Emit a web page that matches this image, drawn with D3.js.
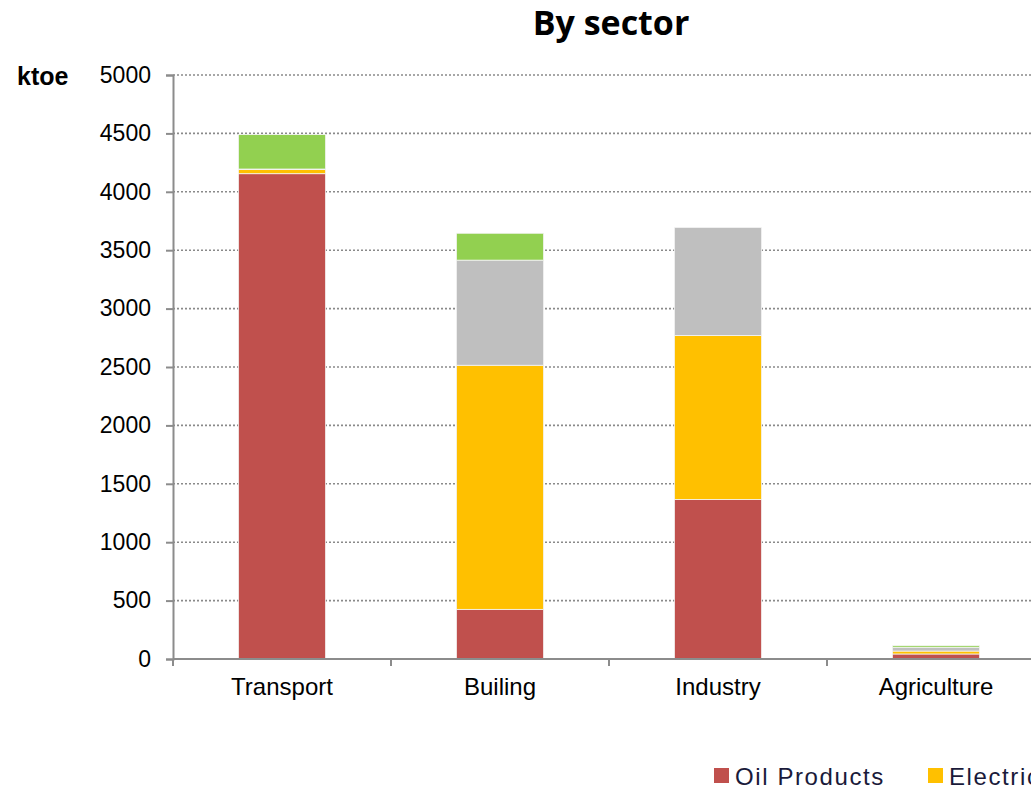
<!DOCTYPE html>
<html>
<head>
<meta charset="utf-8">
<script src="https://cdnjs.cloudflare.com/ajax/libs/d3/7.8.5/d3.min.js"></script>
<style>
  body { margin: 0; background: #fff; overflow: hidden; }
  svg { display: block; }
</style>
</head>
<body>
<svg id="chart"></svg>
<script>
const width = 1031;
const height = 792;

// data (ktoe)
const sectors = ['Transport', 'Builing', 'Industry', 'Agriculture'];
const seriesNames = ['Oil Products', 'Electricity', 'Natural Gas', 'Renewables'];
const oilProducts = [4155, 425, 1365, 43];
const electricity = [35, 2090, 1405, 25];
const naturalGas = [5, 900, 925, 30];
const renewables = [295, 230, 0, 15];
const yTicks = [0, 500, 1000, 1500, 2000, 2500, 3000, 3500, 4000, 4500, 5000];
const colors = ['#C0504D', '#FFC000', '#BFBFBF', '#92D050'];

const margin = {top: 75, left: 173, bottom: 133};
const plotRight = 1045; // plot runs past the visible edge, like the original crop

const svg = d3.select('#chart')
    .attr('width', width).attr('height', height);

const x = d3.scaleBand()
    .domain(sectors)
    .range([margin.left, plotRight])
    .paddingInner(0.6)
    .paddingOuter(0.3);

const y = d3.scaleLinear()
    .domain([0, 5000])
    .range([height - margin.bottom, margin.top]);

// table for the stack
const rows = sectors.map((s, i) => ({
  sector: s,
  'Oil Products': oilProducts[i],
  'Electricity': electricity[i],
  'Natural Gas': naturalGas[i],
  'Renewables': renewables[i]
}));
const stacked = d3.stack().keys(seriesNames)(rows);

// gridlines
svg.append('g')
    .selectAll('line')
    .data(yTicks.filter(d => d > 0))
    .enter().append('line')
    .attr('x1', margin.left).attr('x2', plotRight)
    .attr('y1', d => y(d)).attr('y2', d => y(d))
    .style('stroke', '#8a8a8a')
    .style('stroke-width', 1.6)
    .style('stroke-dasharray', '2,2');

// bars
svg.append('g')
    .selectAll('g')
    .data(stacked)
    .enter().append('g')
    .style('fill', (d, i) => colors[i])
    .selectAll('rect')
    .data(d => d)
    .enter().append('rect')
    .attr('x', d => x(d.data.sector))
    .attr('width', x.bandwidth())
    .attr('y', d => y(d[1]))
    .attr('height', d => Math.max(0, y(d[0]) - y(d[1])))
    .style('stroke', '#f4f4f4')
    .style('stroke-width', 0.8);

// y axis
const yAxis = svg.append('g')
    .attr('transform', `translate(${margin.left},0)`)
    .call(d3.axisLeft(y).tickValues(yTicks).tickFormat(d3.format('d')).tickSize(7).tickPadding(15));
yAxis.select('.domain').style('stroke', '#8c8c8c').style('stroke-width', 2);
yAxis.selectAll('.tick line').style('stroke', '#8c8c8c').style('stroke-width', 2);
yAxis.selectAll('.tick text')
    .style('font-family', 'Liberation Sans, Arial, sans-serif')
    .style('font-size', '23px')
    .style('fill', '#000');

// x axis
const base = y(0);
svg.append('line')
    .attr('x1', margin.left).attr('x2', plotRight)
    .attr('y1', base).attr('y2', base)
    .style('stroke', '#8c8c8c').style('stroke-width', 2);

const step = x.step();
const boundaries = sectors.map(s => x(s) - step * 0.3).concat([plotRight]);
svg.append('g')
    .selectAll('line')
    .data(boundaries)
    .enter().append('line')
    .attr('x1', d => d).attr('x2', d => d)
    .attr('y1', base).attr('y2', base + 7)
    .style('stroke', '#8c8c8c').style('stroke-width', 2);

svg.append('g')
    .selectAll('text')
    .data(sectors)
    .enter().append('text')
    .attr('x', d => x(d) + x.bandwidth() / 2)
    .attr('y', base + 36)
    .attr('text-anchor', 'middle')
    .style('font-family', 'Liberation Sans, Arial, sans-serif')
    .style('font-size', '24px')
    .text(d => d);

// unit label
svg.append('text')
    .attr('x', 17).attr('y', 85)
    .style('font-family', 'Liberation Sans, Arial, sans-serif')
    .style('font-weight', 'bold')
    .style('font-size', '25px')
    .text('ktoe');

// title
svg.append('text')
    .attr('x', 611).attr('y', 35)
    .attr('text-anchor', 'middle')
    .style('font-family', 'Open Sans, sans-serif')
    .style('font-weight', 'bold')
    .style('font-size', '34px')
    .text('By sector');

// legend (runs off the right edge, as in the original)
const legendX = [714, 928, 1142, 1356];
const legend = svg.append('g')
    .selectAll('g')
    .data(seriesNames)
    .enter().append('g')
    .attr('transform', (d, i) => `translate(${legendX[i]},768)`);
legend.append('rect')
    .attr('width', 15).attr('height', 15)
    .style('fill', (d, i) => colors[i]);
legend.append('text')
    .attr('x', 21).attr('y', 17)
    .style('font-family', 'Liberation Sans, Arial, sans-serif')
    .style('font-size', '24px')
    .style('letter-spacing', '1.6px')
    .style('fill', '#1a1a3a')
    .text(d => d);
</script>
</body>
</html>
